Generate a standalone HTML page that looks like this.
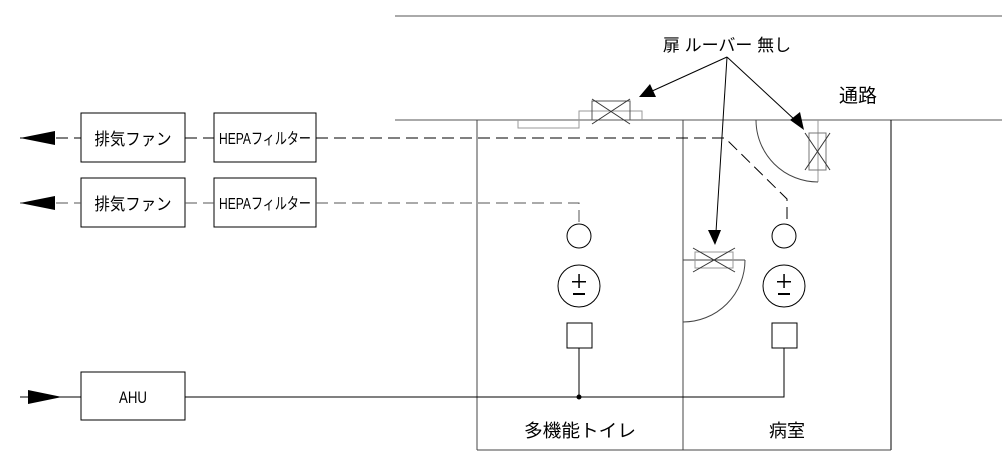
<!DOCTYPE html>
<html><head><meta charset="utf-8"><style>
html,body{margin:0;padding:0;background:#fff;}
svg{display:block;}
text{font-family:"Liberation Sans","Noto Sans CJK JP",sans-serif;fill:#000;}
</style></head><body>
<svg width="1002" height="473" viewBox="0 0 1002 473" xmlns="http://www.w3.org/2000/svg">
<g stroke="#000" fill="none" stroke-width="1">
<line x1="395" y1="16" x2="1002" y2="16" stroke="#555"/>
<line x1="395" y1="120" x2="1002" y2="120" stroke="#555"/>
<line x1="477" y1="120" x2="477" y2="450" stroke="#444"/>
<line x1="683" y1="120" x2="683" y2="450" stroke="#444"/>
<line x1="891" y1="120" x2="891" y2="450"/>
<line x1="477" y1="450" x2="891" y2="450" stroke="#444"/>
<rect x="81" y="113" width="104" height="49"/>
<rect x="214" y="113" width="102" height="49"/>
<rect x="81" y="178" width="104" height="49"/>
<rect x="214" y="178" width="102" height="49"/>
<rect x="81" y="372" width="104" height="48"/>
<line x1="20" y1="138" x2="81" y2="138" stroke-dasharray="12,6"/>
<line x1="185" y1="138" x2="214" y2="138" stroke-dasharray="12,6"/>
<polyline points="316,138 725,138 787,199 787,224" stroke-dasharray="12,6"/>
<line x1="20" y1="203" x2="81" y2="203" stroke-dasharray="12,6" stroke="#555"/>
<line x1="185" y1="203" x2="214" y2="203" stroke-dasharray="12,6" stroke="#555"/>
<polyline points="316,203 579,203 579,224" stroke-dasharray="12,6" stroke="#555"/>
<line x1="20" y1="397" x2="81" y2="397"/>
<polyline points="185,397 784,397 784,348"/>
<line x1="579" y1="397" x2="579" y2="348"/>
<circle cx="579" cy="236" r="12"/>
<circle cx="784" cy="236" r="12"/>
<circle cx="579" cy="286" r="21"/>
<circle cx="784" cy="286" r="21"/>
<rect x="567" y="323" width="25" height="25"/>
<rect x="772" y="323" width="25" height="25"/>
<polyline points="518,120 518,128 579,128 579,111 642,111 642,120" stroke="#999"/>
<rect x="592" y="101" width="38" height="19" stroke="#555"/>
<line x1="592" y1="99" x2="630" y2="124" stroke="#333"/>
<line x1="592" y1="124" x2="630" y2="99" stroke="#333"/>
<line x1="818" y1="120" x2="818" y2="182" stroke="#999"/>
<rect x="809" y="133" width="17" height="37" stroke="#777"/>
<line x1="805" y1="133" x2="830" y2="170" stroke="#333"/>
<line x1="830" y1="133" x2="805" y2="170" stroke="#333"/>
<path d="M756,120 A62,62 0 0 0 818,182" stroke="#444"/>
<line x1="683" y1="260" x2="745" y2="260" stroke="#444"/>
<rect x="695" y="252" width="38" height="16" stroke="#999"/>
<line x1="693" y1="248" x2="735" y2="272" stroke="#333"/>
<line x1="693" y1="272" x2="735" y2="248" stroke="#333"/>
<path d="M745,260 A62,62 0 0 1 683,322" stroke="#444"/>
<line x1="727" y1="57" x2="650" y2="92"/>
<line x1="727" y1="57" x2="795" y2="120"/>
<line x1="727" y1="57" x2="716" y2="232"/>
<circle cx="579" cy="397" r="2" fill="#000"/>
</g>
<g fill="#000" stroke="none">
<polygon points="20,138 55,131 55,145"/>
<polygon points="20,203 55,196 55,210"/>
<polygon points="62,397 28,390 28,404"/>
<polygon points="639,97 650,84 656,97"/>
<polygon points="804,130 790,120 800,112"/>
<polygon points="715,245 708,230 721,230"/>
<rect x="572" y="281" width="14" height="1.5"/>
<rect x="578.3" y="274" width="1.5" height="14"/>
<rect x="573" y="293" width="12" height="2"/>
<rect x="777" y="281" width="14" height="1.5"/>
<rect x="783.3" y="274" width="1.5" height="14"/>
<rect x="778" y="293" width="12" height="2"/>
</g>
<text x="133" y="145" font-size="17" text-anchor="middle" textLength="77" lengthAdjust="spacingAndGlyphs">排気ファン</text>
<text x="265" y="144" font-size="16" text-anchor="middle" textLength="92" lengthAdjust="spacingAndGlyphs">HEPAフィルター</text>
<text x="133" y="210" font-size="17" text-anchor="middle" textLength="77" lengthAdjust="spacingAndGlyphs">排気ファン</text>
<text x="265" y="209" font-size="16" text-anchor="middle" textLength="92" lengthAdjust="spacingAndGlyphs">HEPAフィルター</text>
<text x="133" y="403" font-size="17" text-anchor="middle" textLength="28" lengthAdjust="spacingAndGlyphs">AHU</text>
<text x="727" y="51" font-size="17" text-anchor="middle">扉 ルーバー 無し</text>
<text x="858" y="102" font-size="19" text-anchor="middle">通路</text>
<text x="580" y="437" font-size="18" text-anchor="middle" textLength="112" lengthAdjust="spacingAndGlyphs">多機能トイレ</text>
<text x="787" y="437" font-size="18" text-anchor="middle">病室</text>
</svg>
</body></html>
